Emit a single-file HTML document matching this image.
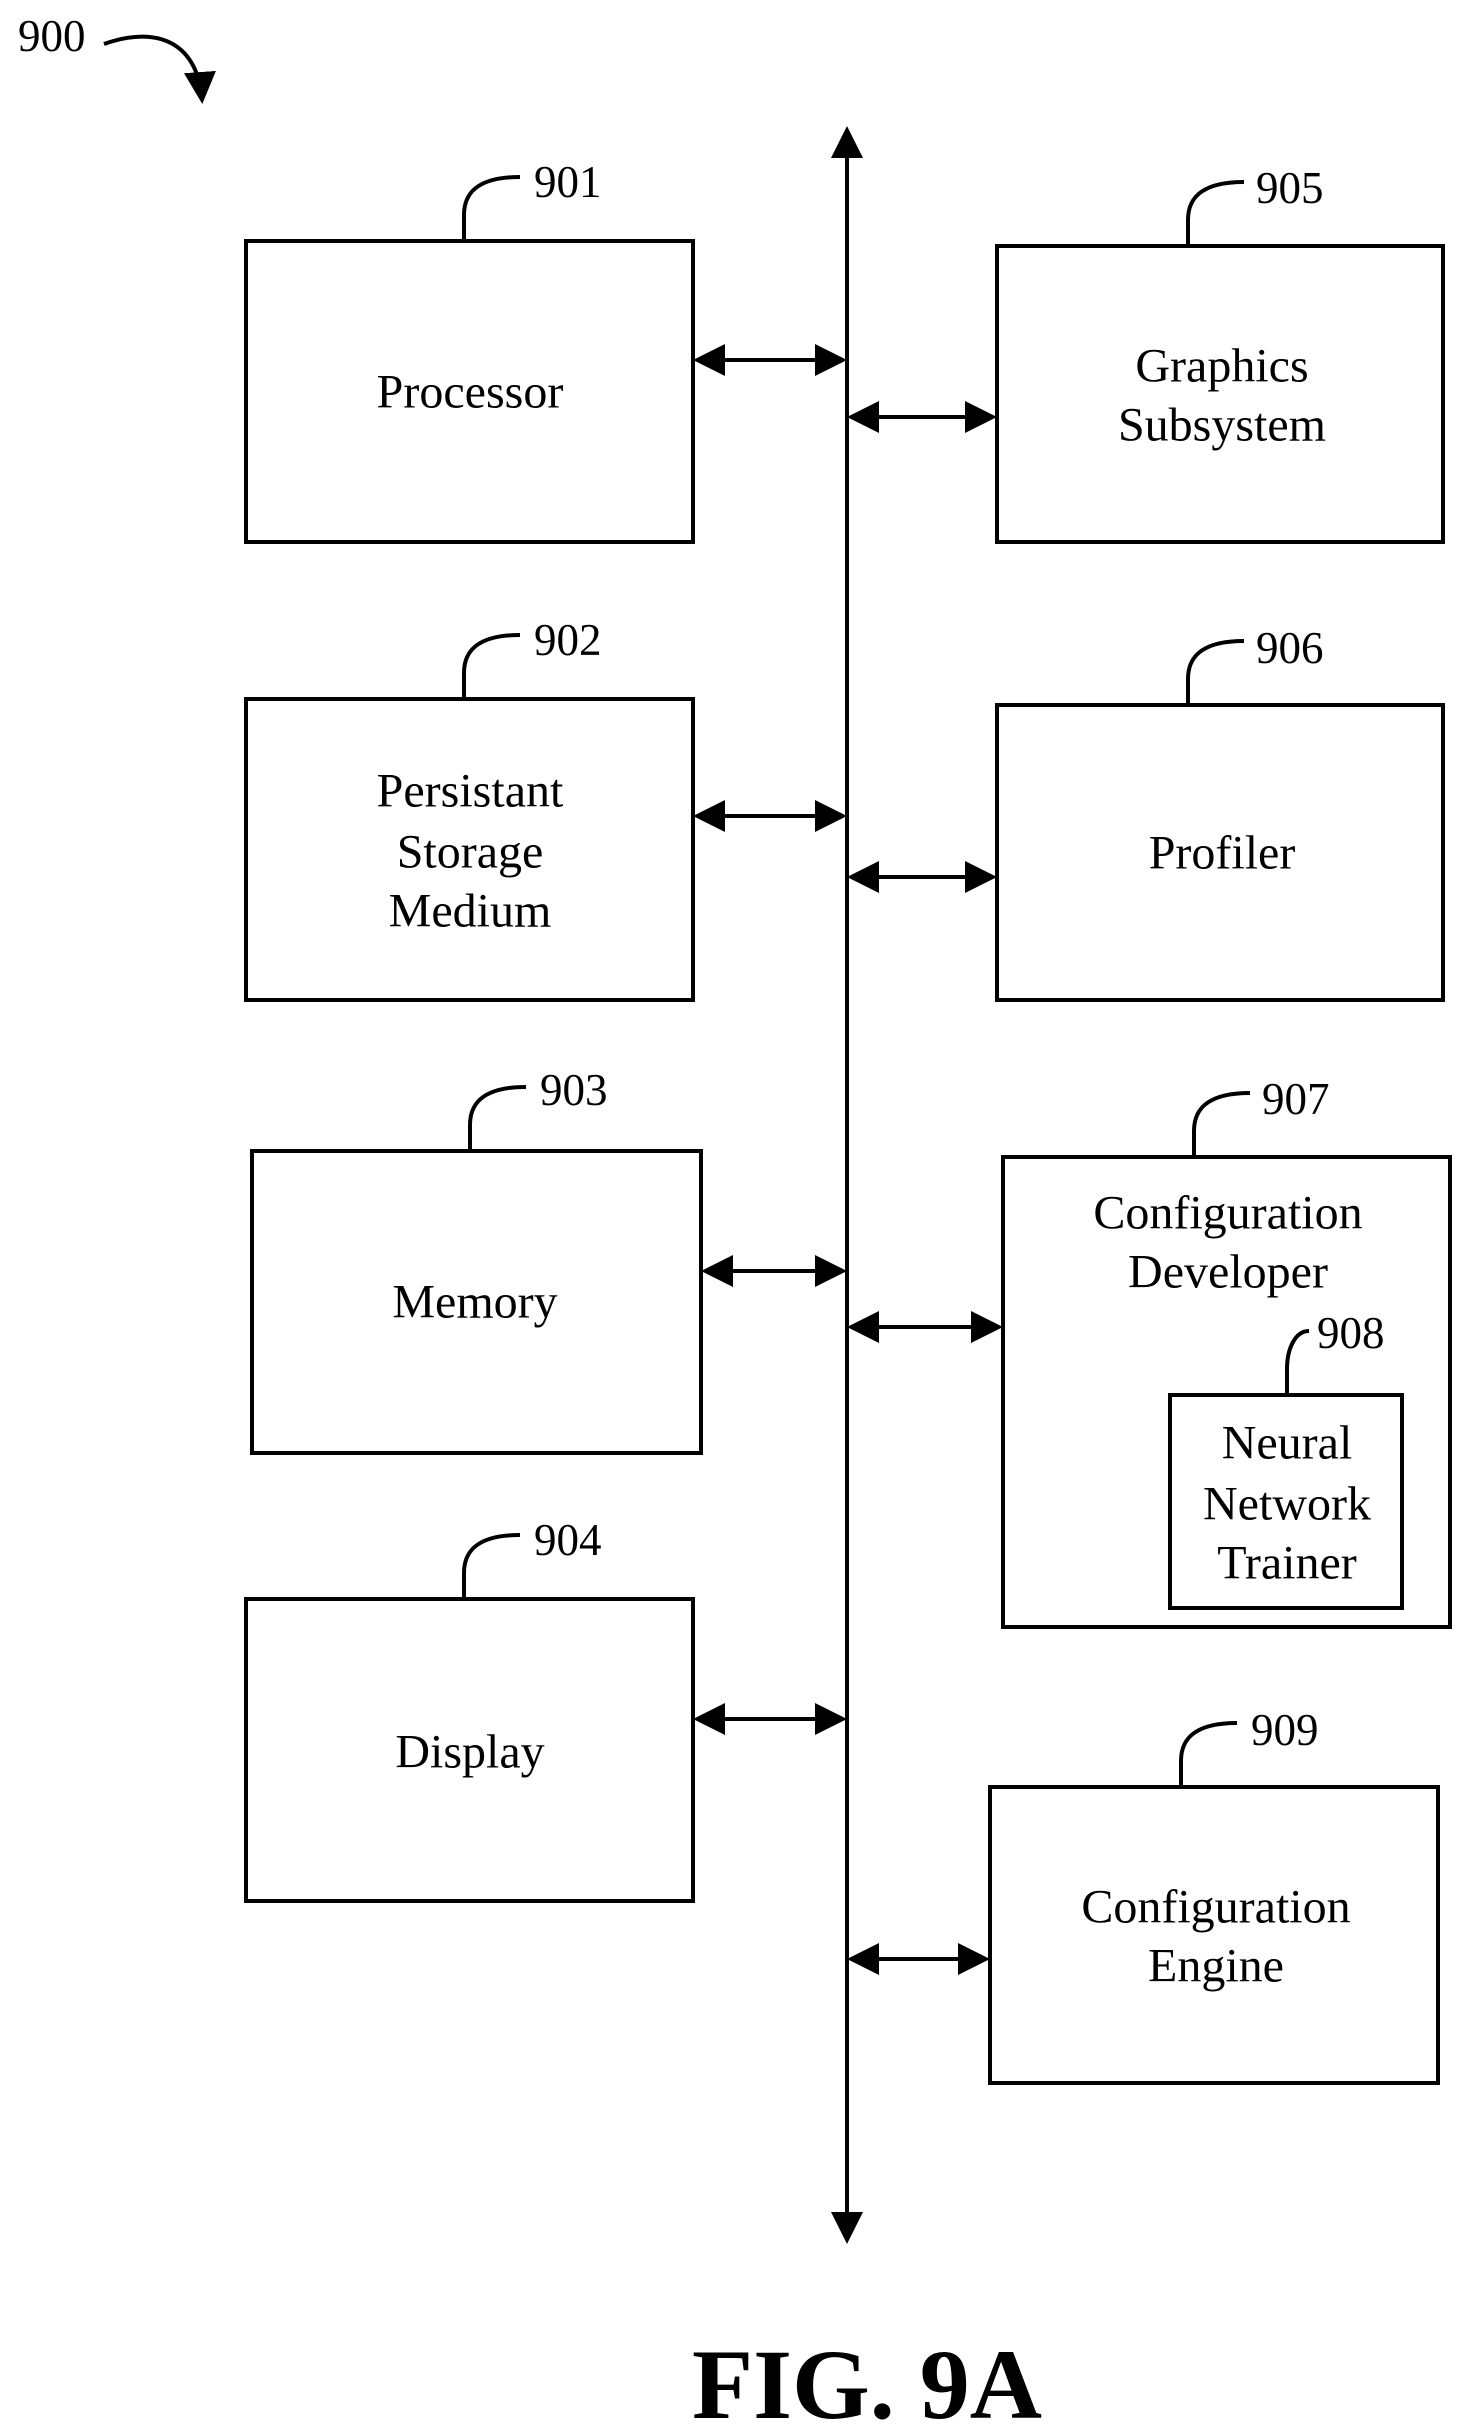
<!DOCTYPE html>
<html><head><meta charset="utf-8"><style>
html,body{margin:0;padding:0;background:#fff;}
svg{display:block;}
text{font-family:"Liberation Serif",serif;fill:#000;}
</style></head><body>
<svg width="1470" height="2432" viewBox="0 0 1470 2432" xmlns="http://www.w3.org/2000/svg">
<defs>
<marker id="ah" markerWidth="8" markerHeight="8" refX="7" refY="4" orient="auto-start-reverse" markerUnits="strokeWidth">
<path d="M0,0 L8,4 L0,8 z" fill="#000"/>
</marker>
</defs>
<g fill="none" stroke="#000" stroke-width="4">
<line x1="847" y1="130" x2="847" y2="2240" marker-start="url(#ah)" marker-end="url(#ah)"/>
<rect x="246" y="241" width="447" height="301"/>
<rect x="997" y="246" width="446" height="296"/>
<rect x="246" y="699" width="447" height="301"/>
<rect x="997" y="705" width="446" height="295"/>
<rect x="252" y="1151" width="449" height="302"/>
<rect x="1003" y="1157" width="447" height="470"/>
<rect x="1170" y="1395" width="232" height="213"/>
<rect x="246" y="1599" width="447" height="302"/>
<rect x="990" y="1787" width="448" height="296"/>
<line x1="697" y1="360" x2="843" y2="360" marker-start="url(#ah)" marker-end="url(#ah)"/>
<line x1="851" y1="417" x2="993" y2="417" marker-start="url(#ah)" marker-end="url(#ah)"/>
<line x1="697" y1="816" x2="843" y2="816" marker-start="url(#ah)" marker-end="url(#ah)"/>
<line x1="851" y1="877" x2="993" y2="877" marker-start="url(#ah)" marker-end="url(#ah)"/>
<line x1="705" y1="1271" x2="843" y2="1271" marker-start="url(#ah)" marker-end="url(#ah)"/>
<line x1="851" y1="1327" x2="999" y2="1327" marker-start="url(#ah)" marker-end="url(#ah)"/>
<line x1="697" y1="1719" x2="843" y2="1719" marker-start="url(#ah)" marker-end="url(#ah)"/>
<line x1="851" y1="1959" x2="986" y2="1959" marker-start="url(#ah)" marker-end="url(#ah)"/>
<path d="M464 241 V215 C464 195 475 177 520 177"/>
<path d="M464 699 V673 C464 653 475 635 520 635"/>
<path d="M470 1151 V1125 C470 1105 481 1087 526 1087"/>
<path d="M464 1599 V1573 C464 1553 475 1535 520 1535"/>
<path d="M1188 246 V220 C1188 200 1199 182 1244 182"/>
<path d="M1188 705 V679 C1188 659 1199 641 1244 641"/>
<path d="M1194 1157 V1131 C1194 1111 1205 1093 1250 1093"/>
<path d="M1287 1395 V1369 C1287 1349 1295 1331 1309 1331"/>
<path d="M1181 1787 V1761 C1181 1741 1192 1723 1237 1723"/>
<path d="M104 44 C160 24 198 45 202 100" marker-end="url(#ah)"/>
</g>
<g font-size="48" text-anchor="middle" dominant-baseline="central">
<text x="470" y="392">Processor</text>
<text x="1222" y="366">Graphics</text>
<text x="1222" y="425">Subsystem</text>
<text x="470" y="791">Persistant</text>
<text x="470" y="852">Storage</text>
<text x="470" y="911">Medium</text>
<text x="1222" y="853">Profiler</text>
<text x="475" y="1302">Memory</text>
<text x="1228" y="1213">Configuration</text>
<text x="1228" y="1272">Developer</text>
<text x="1287" y="1443">Neural</text>
<text x="1287" y="1504">Network</text>
<text x="1287" y="1563">Trainer</text>
<text x="470" y="1752">Display</text>
<text x="1216" y="1907">Configuration</text>
<text x="1216" y="1966">Engine</text>
</g>
<g font-size="45" dominant-baseline="central">
<text x="18" y="36">900</text>
<text x="534" y="182">901</text>
<text x="534" y="640">902</text>
<text x="540" y="1090">903</text>
<text x="534" y="1540">904</text>
<text x="1256" y="188">905</text>
<text x="1256" y="648">906</text>
<text x="1262" y="1099">907</text>
<text x="1317" y="1333">908</text>
<text x="1251" y="1730">909</text>
</g>
<text x="867" y="2418" font-size="100" font-weight="bold" text-anchor="middle">FIG. 9A</text>
</svg>
</body></html>
